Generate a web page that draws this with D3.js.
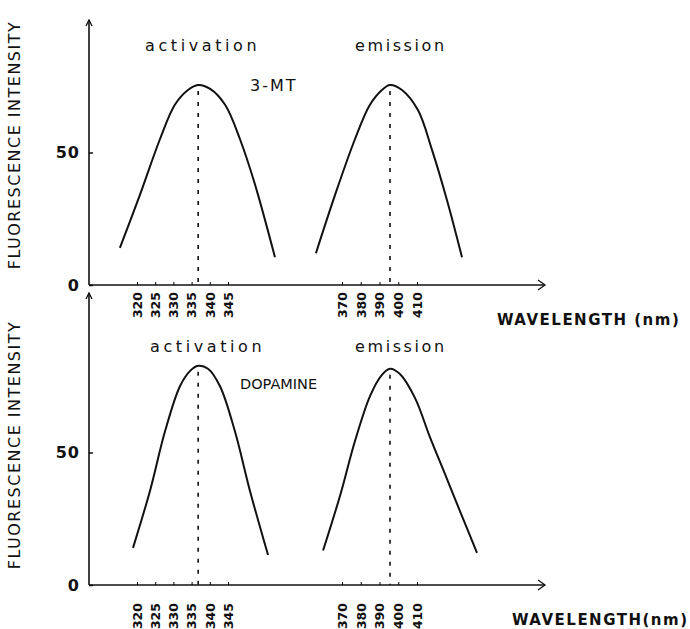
<!DOCTYPE html>
<html>
<head>
<meta charset="utf-8">
<script src="https://cdn.jsdelivr.net/npm/d3@7/dist/d3.min.js"></script>
<style>
  body { margin: 0; background: #fff; }
  text { font-family: "DejaVu Sans", sans-serif; fill: #111; }
</style>
</head>
<body>
<svg id="chart"></svg>
<script>
// wavelength ticks (nm)
var actTicks = [320, 325, 330, 335, 340, 345];
var emTicks = [370, 380, 390, 400, 410];
var yTicks = [0, 50];

// 3-MT spectra [wavelength, intensity]
var mtAct = [[315.3,14],[320.8,34],[326.3,55],[330.4,68],[334.0,73.6],[336.8,75.5],[340.1,74],[344.2,68],[348.3,55],[352.4,38],[357.9,10.5]];
var mtEm = [[356.1,12],[366.3,34],[376.9,55],[384.9,68],[391.3,73.6],[395.6,75.5],[402,73.6],[410.5,66],[418,51],[426,32],[434,10.5]];
var mtPeaks = [336.8, 395.6];

// dopamine spectra
var daAct = [[318.9,14],[323.6,35.7],[327.7,58],[331.8,75],[334.6,80.8],[336.8,82.7],[339.5,81.6],[342.8,75],[346.9,58],[351,35.7],[356,11.3]];
var daEm = [[359.9,13],[369,33.8],[377,54.5],[385,71.4],[391.3,79.3],[395.6,81.6],[400.9,79.6],[408.9,70.6],[416.9,55.8],[424.9,41.9],[432.9,27.9],[442,12.1]];
var daPeaks = [336.8, 395.6];

var width = 690, height = 629;
var svg = d3.select('#chart').attr('width', width).attr('height', height);

var axisLeftX = 89, axisRightX = 545;

// two separate wavelength scales, as on the original figure
var xAct = d3.scaleLinear().domain([320, 345]).range([137, 228]);
var xEm = d3.scaleLinear().domain([370, 410]).range([342, 417]);

function panel(opts){
	var g = svg.append('g');
	var y = d3.scaleLinear().domain([0, 100]).range([opts.base, opts.base - 265]);

	// y-axis line with open arrow
	g.append('path')
		.attr('d', 'M' + axisLeftX + ',' + opts.base + 'V' + opts.top)
		.attr('stroke', '#111').attr('stroke-width', 1.6).attr('fill', 'none');
	g.append('path')
		.attr('d', 'M' + (axisLeftX - 3) + ',' + (opts.top + 6) + 'L' + axisLeftX + ',' + opts.top + 'L' + (axisLeftX + 3) + ',' + (opts.top + 6))
		.attr('stroke', '#111').attr('stroke-width', 1.3).attr('fill', 'none');

	// x-axis line with open arrow
	g.append('path')
		.attr('d', 'M' + axisLeftX + ',' + opts.base + 'H' + axisRightX)
		.attr('stroke', '#111').attr('stroke-width', 1.6).attr('fill', 'none');
	g.append('path')
		.attr('d', 'M' + (axisRightX - 7) + ',' + (opts.base - 5) + 'L' + axisRightX + ',' + opts.base + 'L' + (axisRightX - 7) + ',' + (opts.base + 5))
		.attr('stroke', '#111').attr('stroke-width', 1.3).attr('fill', 'none');

	// y ticks
	var yAxis = d3.axisLeft(y).tickValues(yTicks).tickSize(-4).tickPadding(9).tickFormat(d3.format('d'));
	var ya = g.append('g').attr('transform', 'translate(' + axisLeftX + ',0)').call(yAxis);
	ya.select('.domain').remove();
	ya.selectAll('line').attr('stroke-width', 1.4);
	ya.selectAll('text').style('font-size', '16px').style('font-weight', 'bold').style('letter-spacing', '1px');

	// x ticks, rotated labels
	[[xAct, actTicks], [xEm, emTicks]].forEach(function(p){
		var xa = g.append('g')
			.attr('transform', 'translate(0,' + opts.base + ')')
			.call(d3.axisBottom(p[0]).tickValues(p[1]).tickSize(-3).tickFormat(d3.format('d')));
		xa.select('.domain').remove();
		xa.selectAll('text')
			.attr('transform', 'translate(0,' + opts.labelY + ') rotate(-90)')
			.attr('x', 0).attr('y', 0).attr('dy', '0.35em')
			.style('text-anchor', 'end')
			.style('font-size', '12.5px').style('font-weight', 'bold');
	});

	var line = d3.line()
		.curve(d3.curveCatmullRom.alpha(0.5));

	g.append('path')
		.datum(opts.act)
		.attr('d', line.x(function(d){ return xAct(d[0]); }).y(function(d){ return y(d[1]); }))
		.attr('fill', 'none').attr('stroke', '#111').attr('stroke-width', 2);
	g.append('path')
		.datum(opts.em)
		.attr('d', line.x(function(d){ return xEm(d[0]); }).y(function(d){ return y(d[1]); }))
		.attr('fill', 'none').attr('stroke', '#111').attr('stroke-width', 2);

	// dashed peak markers
	var peakY = [d3.max(opts.act, function(d){ return d[1]; }), d3.max(opts.em, function(d){ return d[1]; })];
	[xAct(opts.peaks[0]), xEm(opts.peaks[1])].forEach(function(px, i){
		g.append('line')
			.attr('x1', px).attr('x2', px)
			.attr('y1', y(peakY[i]) + 6).attr('y2', y(0))
			.attr('stroke', '#111').attr('stroke-width', 1.6)
			.attr('stroke-dasharray', '4,7');
	});

	// titles
	g.append('text')
		.attr('transform', 'translate(20,' + opts.titleY + ') rotate(-90)')
		.style('text-anchor', 'middle').style('font-size', '16px').style('letter-spacing', '1.5px')
		.text('FLUORESCENCE  INTENSITY');
	g.append('text').attr('x', opts.actX).attr('y', opts.labY).style('font-size', '16px').style('letter-spacing', '3.6px').text('activation');
	g.append('text').attr('x', opts.emX).attr('y', opts.labY).style('font-size', '16px').style('letter-spacing', '2.6px').text('emission');
	g.append('text').attr('x', opts.nameX).attr('y', opts.nameY).style('font-size', opts.nameSize).style('letter-spacing', opts.nameSp).text(opts.name);
	g.append('text').attr('x', opts.wlX).attr('y', opts.wlY).style('font-size', '15px').style('font-weight', 'bold').style('letter-spacing', '1.5px').text(opts.wl);
}

panel({base: 285, top: 20, labelY: 7, act: mtAct, em: mtEm, peaks: mtPeaks,
	titleY: 145, actX: 145, emX: 355, labY: 51, nameX: 250, nameY: 91, name: '3-MT', nameSize: '16px', nameSp: '2px',
	wlX: 497, wlY: 325, wl: 'WAVELENGTH  (nm)'});

panel({base: 585, top: 293, labelY: 18, act: daAct, em: daEm, peaks: daPeaks,
	titleY: 445, actX: 150, emX: 355, labY: 352, nameX: 240, nameY: 389, name: 'DOPAMINE', nameSize: '14.5px', nameSp: '0px',
	wlX: 512, wlY: 625, wl: 'WAVELENGTH(nm)'});
</script>
</body>
</html>
